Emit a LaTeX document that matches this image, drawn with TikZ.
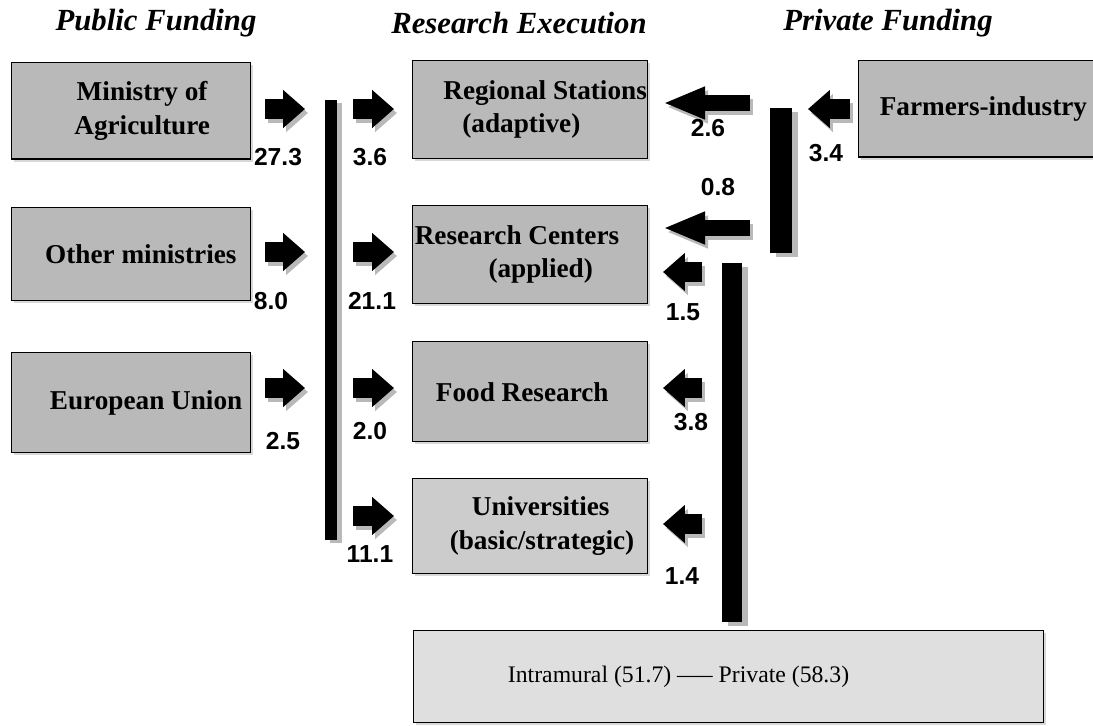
\documentclass[tikz,border=0pt]{standalone}
\usepackage{fontspec}
\setmainfont{Liberation Serif}
\newfontfamily\numfont{Liberation Sans}
\usetikzlibrary{arrows.meta,shadows}

\begin{document}
\begin{tikzpicture}[x=0.02cm,y=-0.02cm,
  box/.style={draw,line width=0.8pt,fill=gray!55,anchor=north west,align=center,inner sep=0pt,
    font=\fontsize{15.5}{19}\selectfont\bfseries,
    drop shadow={shadow xshift=1.5pt,shadow yshift=-1.5pt,fill=gray!60,opacity=0.5}},
  src/.style={box,minimum width=4.78cm,minimum height=1.93cm},
  exe/.style={box,minimum width=4.7cm,minimum height=1.96cm},
  head/.style={font=\fontsize{17.5}{20}\selectfont\bfseries\itshape},
  num/.style={font=\numfont\bfseries\fontsize{14}{16}\selectfont},
  sarr/.style={line width=11pt,-{Triangle[length=12.5pt,width=21pt]}},
  larr/.style={line width=9pt,-{Triangle[length=24pt,width=17pt]}},
]
\useasboundingbox (0,0) rectangle (1093,725);

% headings
\node[head] (tpub) at (156,23) {Public Funding};
\node[head] (texe) at (519,23) {Research Execution};
\node[head] (tpri) at (888,23) {Private Funding};

% funding sources
\node[src] (moa) at (11,62) {\hspace*{12.5pt}Ministry of\\\hspace*{12.5pt}Agriculture};
\node[src,minimum height=1.86cm] (om) at (11,207) {\hspace*{11pt}Other ministries};
\node[src,minimum height=2cm] (eu) at (11,352) {\hspace*{17pt}European Union};
\node[src] (fi) at (858,60) {\hspace*{6pt}Farmers-industry};

% research execution
\node[exe] (rs) at (412,60) {\hspace*{17pt}Regional Stations\\\hspace*{-10pt}(adaptive)};
\node[exe] (rc) at (412,205) {\hspace*{-15pt}Research Centers\\\hspace*{12pt}(applied)};
\node[exe,minimum height=2cm] (fr) at (412,341) {\hspace*{-9pt}Food Research};
\node[exe,fill=gray!40,minimum height=1.9cm] (uni) at (412,478) {\hspace*{12pt}Universities\\\hspace*{13.5pt}(basic/strategic)};
\node[box,fill=gray!25,font=\fontsize{13.5}{16}\selectfont,minimum width=12.6cm,minimum height=1.84cm] (tot) at (413,630)
  {\hspace*{-57pt}Intramural (51.7) ----- Private (58.3)};

% bars
\coordinate (lb1) at (331,100);
\coordinate (lb2) at (331,540);
\coordinate (ub1) at (781,108);
\coordinate (ub2) at (781,253);
\coordinate (db1) at (732,263);
\coordinate (db2) at (732,622);
\draw[gray!55,line width=6.8pt] ([shift={(5,3)}]lb1) -- ([shift={(5,3)}]lb2);
\draw[line width=6.8pt] (lb1) -- (lb2);
\draw[gray!55,line width=12.5pt] ([shift={(6,4)}]ub1) -- ([shift={(6,4)}]ub2);
\draw[line width=12.5pt] (ub1) -- (ub2);
\draw[gray!55,line width=11.3pt] ([shift={(6,4)}]db1) -- ([shift={(6,4)}]db2);
\draw[line width=11.3pt] (db1) -- (db2);

% arrows into the bar and out of it
\foreach \y [count=\i] in {109,252,388}{
  \coordinate (pa\i) at (265,\y);
  \coordinate (pb\i) at (305,\y);
  \draw[sarr,gray!55] ([shift={(3,4)}]pa\i) -- ([shift={(3,4)}]pb\i);
  \draw[sarr] (pa\i) -- (pb\i);
}
\foreach \y [count=\i] in {109,252,388,516}{
  \coordinate (qa\i) at (353,\y);
  \coordinate (qb\i) at (394,\y);
  \draw[sarr,gray!55] ([shift={(3,4)}]qa\i) -- ([shift={(3,4)}]qb\i);
  \draw[sarr] (qa\i) -- (qb\i);
}
\foreach \y [count=\i] in {272,388,524}{
  \coordinate (ra\i) at (702,\y);
  \coordinate (rb\i) at (663,\y);
  \draw[sarr,gray!55] ([shift={(3,4)}]ra\i) -- ([shift={(3,4)}]rb\i);
  \draw[sarr] (ra\i) -- (rb\i);
}
\coordinate (fa) at (850,109);
\coordinate (fb) at (808,109);
\draw[sarr,gray!55] ([shift={(3,4)}]fa) -- ([shift={(3,4)}]fb);
\draw[sarr] (fa) -- (fb);
\foreach \y [count=\i] in {103,228}{
  \coordinate (la\i) at (750,\y);
  \coordinate (lb\i) at (663,\y);
  \draw[larr,gray!55] ([shift={(3,4)}]la\i) -- ([shift={(3,4)}]lb\i);
  \draw[larr] (la\i) -- (lb\i);
}

% amounts
\node[num] (v1) at (278,157) {27.3};
\node[num] (v2) at (271,301) {8.0};
\node[num] (v3) at (283,441) {2.5};
\node[num] (v4) at (370,157) {3.6};
\node[num] (v5) at (372,301) {21.1};
\node[num] (v6) at (370,431) {2.0};
\node[num] (v7) at (370,554) {11.1};
\node[num] (v8) at (708,128) {2.6};
\node[num] (v9) at (718,187) {0.8};
\node[num] (v10) at (826,153) {3.4};
\node[num] (v11) at (683,312) {1.5};
\node[num] (v12) at (691,422) {3.8};
\node[num] (v13) at (682,576) {1.4};
\end{tikzpicture}
\end{document}
